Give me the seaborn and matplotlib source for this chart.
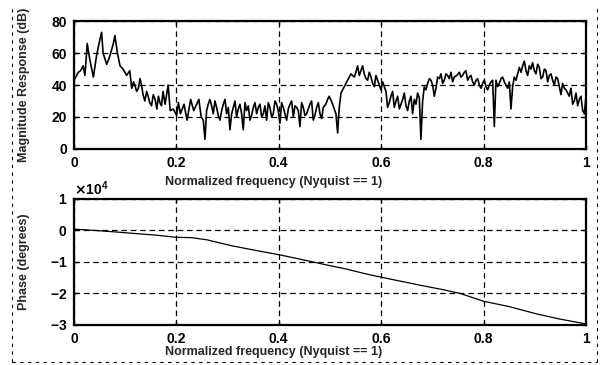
import matplotlib
matplotlib.use('Agg')
import matplotlib.pyplot as plt
import pandas as pd
import seaborn as sns
from matplotlib.lines import Line2D
from matplotlib.ticker import ScalarFormatter

# magnitude response (normalized freq, dB)
mag_freq = [0.000, 0.002, 0.0085, 0.013, 0.018, 0.0215, 0.026, 0.031, 0.038, 0.044,
            0.049, 0.054, 0.057, 0.064, 0.070, 0.077, 0.080, 0.085, 0.090, 0.096,
            0.103, 0.109, 0.113, 0.119, 0.126, 0.129, 0.135, 0.142, 0.148, 0.155,
            0.162, 0.168, 0.174, 0.178, 0.184, 0.188, 0.194, 0.2006, 0.204, 0.208,
            0.215, 0.221, 0.228, 0.234, 0.244, 0.2485, 0.2526, 0.2559, 0.2591, 0.2656,
            0.2721, 0.2786, 0.2852, 0.2917, 0.2982, 0.3047, 0.3112, 0.3177, 0.3242, 0.3307,
            0.3372, 0.3438, 0.3503, 0.3568, 0.3633, 0.3698, 0.3763, 0.3828, 0.3893, 0.3958,
            0.4023, 0.4089, 0.4154, 0.4219, 0.4284, 0.4349, 0.4414, 0.4479, 0.4544, 0.4609,
            0.4674, 0.474, 0.4805, 0.487, 0.4967, 0.4987, 0.5052, 0.5117, 0.515, 0.5182,
            0.5215, 0.528, 0.5345, 0.541, 0.5475, 0.554, 0.5605, 0.567, 0.5736, 0.5801,
            0.5866, 0.5931, 0.5996, 0.6061, 0.6126, 0.6191, 0.6257, 0.6322, 0.6387, 0.6452,
            0.6517, 0.6582, 0.6647, 0.6712, 0.6777, 0.6842, 0.6908, 0.6973, 0.7038, 0.7103,
            0.7168, 0.7233, 0.7298, 0.7363, 0.7428, 0.7526, 0.7591, 0.7656, 0.7721, 0.7786,
            0.7852, 0.7917, 0.7982, 0.8047, 0.8112, 0.8177, 0.821, 0.8242, 0.8307, 0.8372,
            0.8438, 0.8503, 0.8535, 0.8568, 0.8633, 0.8698, 0.8763, 0.8828, 0.8893, 0.8958,
            0.9023, 0.9089, 0.9154, 0.9219, 0.9284, 0.9349, 0.9414, 0.9479, 0.9544, 0.9609,
            0.9674, 0.974, 0.9805, 0.987, 0.9935, 1.0]
mag_db = [44, 44, 48, 49, 52, 46, 66, 56, 45, 58,
          66, 73, 60, 53, 58, 66, 71, 60, 52, 50,
          46, 49, 38, 40, 38, 44, 34, 36, 29, 34,
          25, 29, 36, 28, 40, 24, 25, 21, 29, 22,
          28, 18, 31, 24, 31, 20, 18, 6, 24, 31,
          22, 26, 18, 28, 22, 12, 26, 20, 28, 12,
          24, 18, 26, 22, 28, 22, 18, 26, 22, 28,
          16, 26, 18, 28, 20, 26, 14, 26, 22, 28,
          18, 26, 22, 26, 32, 33, 28, 22, 10, 26,
          35, 39, 43, 47, 45, 52, 49, 47, 43, 45,
          39, 43, 37, 39, 26, 33, 26, 33, 28, 35,
          24, 33, 31, 35, 6, 39, 41, 43, 33, 45,
          47, 43, 46, 48, 45, 48, 46, 49, 45, 42,
          43, 40, 41, 39, 40, 43, 14, 43, 41, 45,
          40, 42, 25, 39, 43, 51, 52, 49, 52, 54,
          47, 51, 45, 49, 46, 43, 45, 39, 41, 37,
          33, 28, 35, 31, 24, 33]

# extra readings in the dense, jagged stretches
mag_freq_fine = [0.1165, 0.1225, 0.1320, 0.1385, 0.1450, 0.1515, 0.1585, 0.1650, 0.1710,
                 0.2623, 0.2689, 0.2754, 0.2819, 0.2885, 0.2950, 0.3015, 0.3080, 0.3145, 0.3210,
                 0.3275, 0.3340, 0.3405, 0.3470, 0.3536, 0.3601, 0.3666, 0.3731, 0.3796, 0.3861,
                 0.3926, 0.3991, 0.4056, 0.4122, 0.4187, 0.4252, 0.4317, 0.4382, 0.4447, 0.4512,
                 0.4577, 0.4642, 0.4707, 0.4773, 0.4838, 0.4919,
                 0.5508, 0.5573, 0.5638, 0.5703, 0.5768, 0.5834, 0.5899, 0.5964, 0.6029, 0.6094,
                 0.6159, 0.6224, 0.6290, 0.6355, 0.6420, 0.6485, 0.6550, 0.6615, 0.6680, 0.6745,
                 0.6810, 0.6875, 0.6941, 0.7006, 0.7071, 0.7136, 0.7201, 0.7266, 0.7331, 0.7396,
                 0.7477, 0.7558, 0.7624, 0.7689, 0.7754, 0.7819, 0.7885, 0.7950, 0.8015, 0.8080,
                 0.8145, 0.8275, 0.8340, 0.8405, 0.8470,
                 0.8600, 0.8666, 0.8731, 0.8796, 0.8861, 0.8926, 0.8991, 0.9056, 0.9122, 0.9187,
                 0.9252, 0.9317, 0.9382, 0.9447, 0.9512, 0.9577, 0.9642, 0.9707, 0.9772, 0.9838,
                 0.9903, 0.9968]
mag_db_fine = [42, 36, 40, 30, 33, 27, 31, 33, 27,
               28, 27, 30, 21, 24, 31, 26, 22, 30, 25,
               22, 29, 27, 21, 29, 26, 20, 27, 29, 20,
               30, 24, 29, 22, 25, 30, 27, 24, 29, 21,
               25, 30, 21, 29, 19, 28,
               48, 46, 52, 44, 48, 41, 46, 40, 42, 36,
               29, 36, 30, 25, 31, 27, 30, 22, 28, 32,
               30, 37, 44, 40, 38, 44, 41, 47, 44, 42,
               46, 45, 48, 43, 46, 40, 44, 38, 43, 37,
               42, 39, 44, 42, 38,
               45, 47, 48, 55, 46, 50, 49, 53, 44, 50,
               42, 47, 40, 44, 34, 38, 35, 38, 30, 27,
               33, 22]

# phase response (degrees)
ph_freq = [0, 0.04, 0.082, 0.12, 0.16, 0.2, 0.23, 0.26, 0.306, 0.35, 0.403, 0.455,
           0.5, 0.53, 0.57, 0.604, 0.64, 0.679, 0.72, 0.754, 0.8, 0.85, 0.903, 0.95, 1.0]
ph_deg = [400, 0, -500, -1000, -1500, -2200, -2300, -3000, -4800, -6200, -7800, -9600,
          -11200, -12200, -13800, -15000, -16200, -17500, -18800, -20000, -22500, -24200,
          -26500, -28200, -29700]

freq_ticks = [0, 0.2, 0.4, 0.6, 0.8, 1]
freq_labels = ['0', '0.2', '0.4', '0.6', '0.8', '1']
xlab = 'Normalized frequency (Nyquist == 1)'

mag = pd.DataFrame({'f': mag_freq + mag_freq_fine, 'db': mag_db + mag_db_fine})
mag = mag.sort_values('f')

sns.set_style('white')
plt.rcParams['font.family'] = ['Liberation Sans', 'DejaVu Sans']
plt.rcParams['font.weight'] = 'bold'
plt.rcParams['axes.labelweight'] = 'bold'

fig = plt.figure(figsize=(6.01, 3.65), dpi=100)
ax1 = fig.add_axes([0.123, 0.592, 0.852, 0.350])
ax2 = fig.add_axes([0.123, 0.110, 0.852, 0.345])

sns.lineplot(data=mag, x='f', y='db', ax=ax1, color='black', lw=1.2)
sns.lineplot(x=ph_freq, y=ph_deg, ax=ax2, color='black', lw=0.9)

ax1.set_ylim(0, 80)
ax1.set_yticks([0, 20, 40, 60, 80])
ax1.set_ylabel('Magnitude Response (dB)', fontsize=9)
ax2.set_ylim(-30000, 10000)
ax2.set_yticks([-30000, -20000, -10000, 0, 10000])
fmt = ScalarFormatter(useMathText=True)
fmt.set_powerlimits((0, 0))
ax2.yaxis.set_major_formatter(fmt)
ax2.yaxis.get_offset_text().set_fontsize(10)
ax2.set_ylabel('Phase (degrees)', fontsize=9)

for ax, ly in ((ax1, -0.21), (ax2, -0.17)):
    ax.set_xlim(0, 1)
    ax.set_xticks(freq_ticks)
    ax.set_xticklabels(freq_labels)
    ax.set_xlabel(xlab, fontsize=9)
    ax.xaxis.set_label_coords(0.39, ly)
    ax.yaxis.set_label_coords(-0.085, 0.5)
    ax.grid(True, color='black', lw=0.9, linestyle=(0, (4.5, 3)))
    ax.tick_params(direction='in', length=3, width=1, labelsize=10, pad=5,
                   colors='black', left=True, bottom=True, top=True, right=True)
    for s in ax.spines.values():
        s.set_color('black')
        s.set_linewidth(1.6)

# scanned page border
bx = dict(transform=fig.transFigure, color='black', lw=0.8, linestyle=(0, (3, 4)))
fig.add_artist(Line2D([0.02, 0.02], [0.008, 0.986], **bx))
fig.add_artist(Line2D([0.02, 0.993], [0.008, 0.008], **bx))
fig.add_artist(Line2D([0.993, 0.993], [0.008, 0.986], **bx))

fig.savefig('out.png', dpi=100)
